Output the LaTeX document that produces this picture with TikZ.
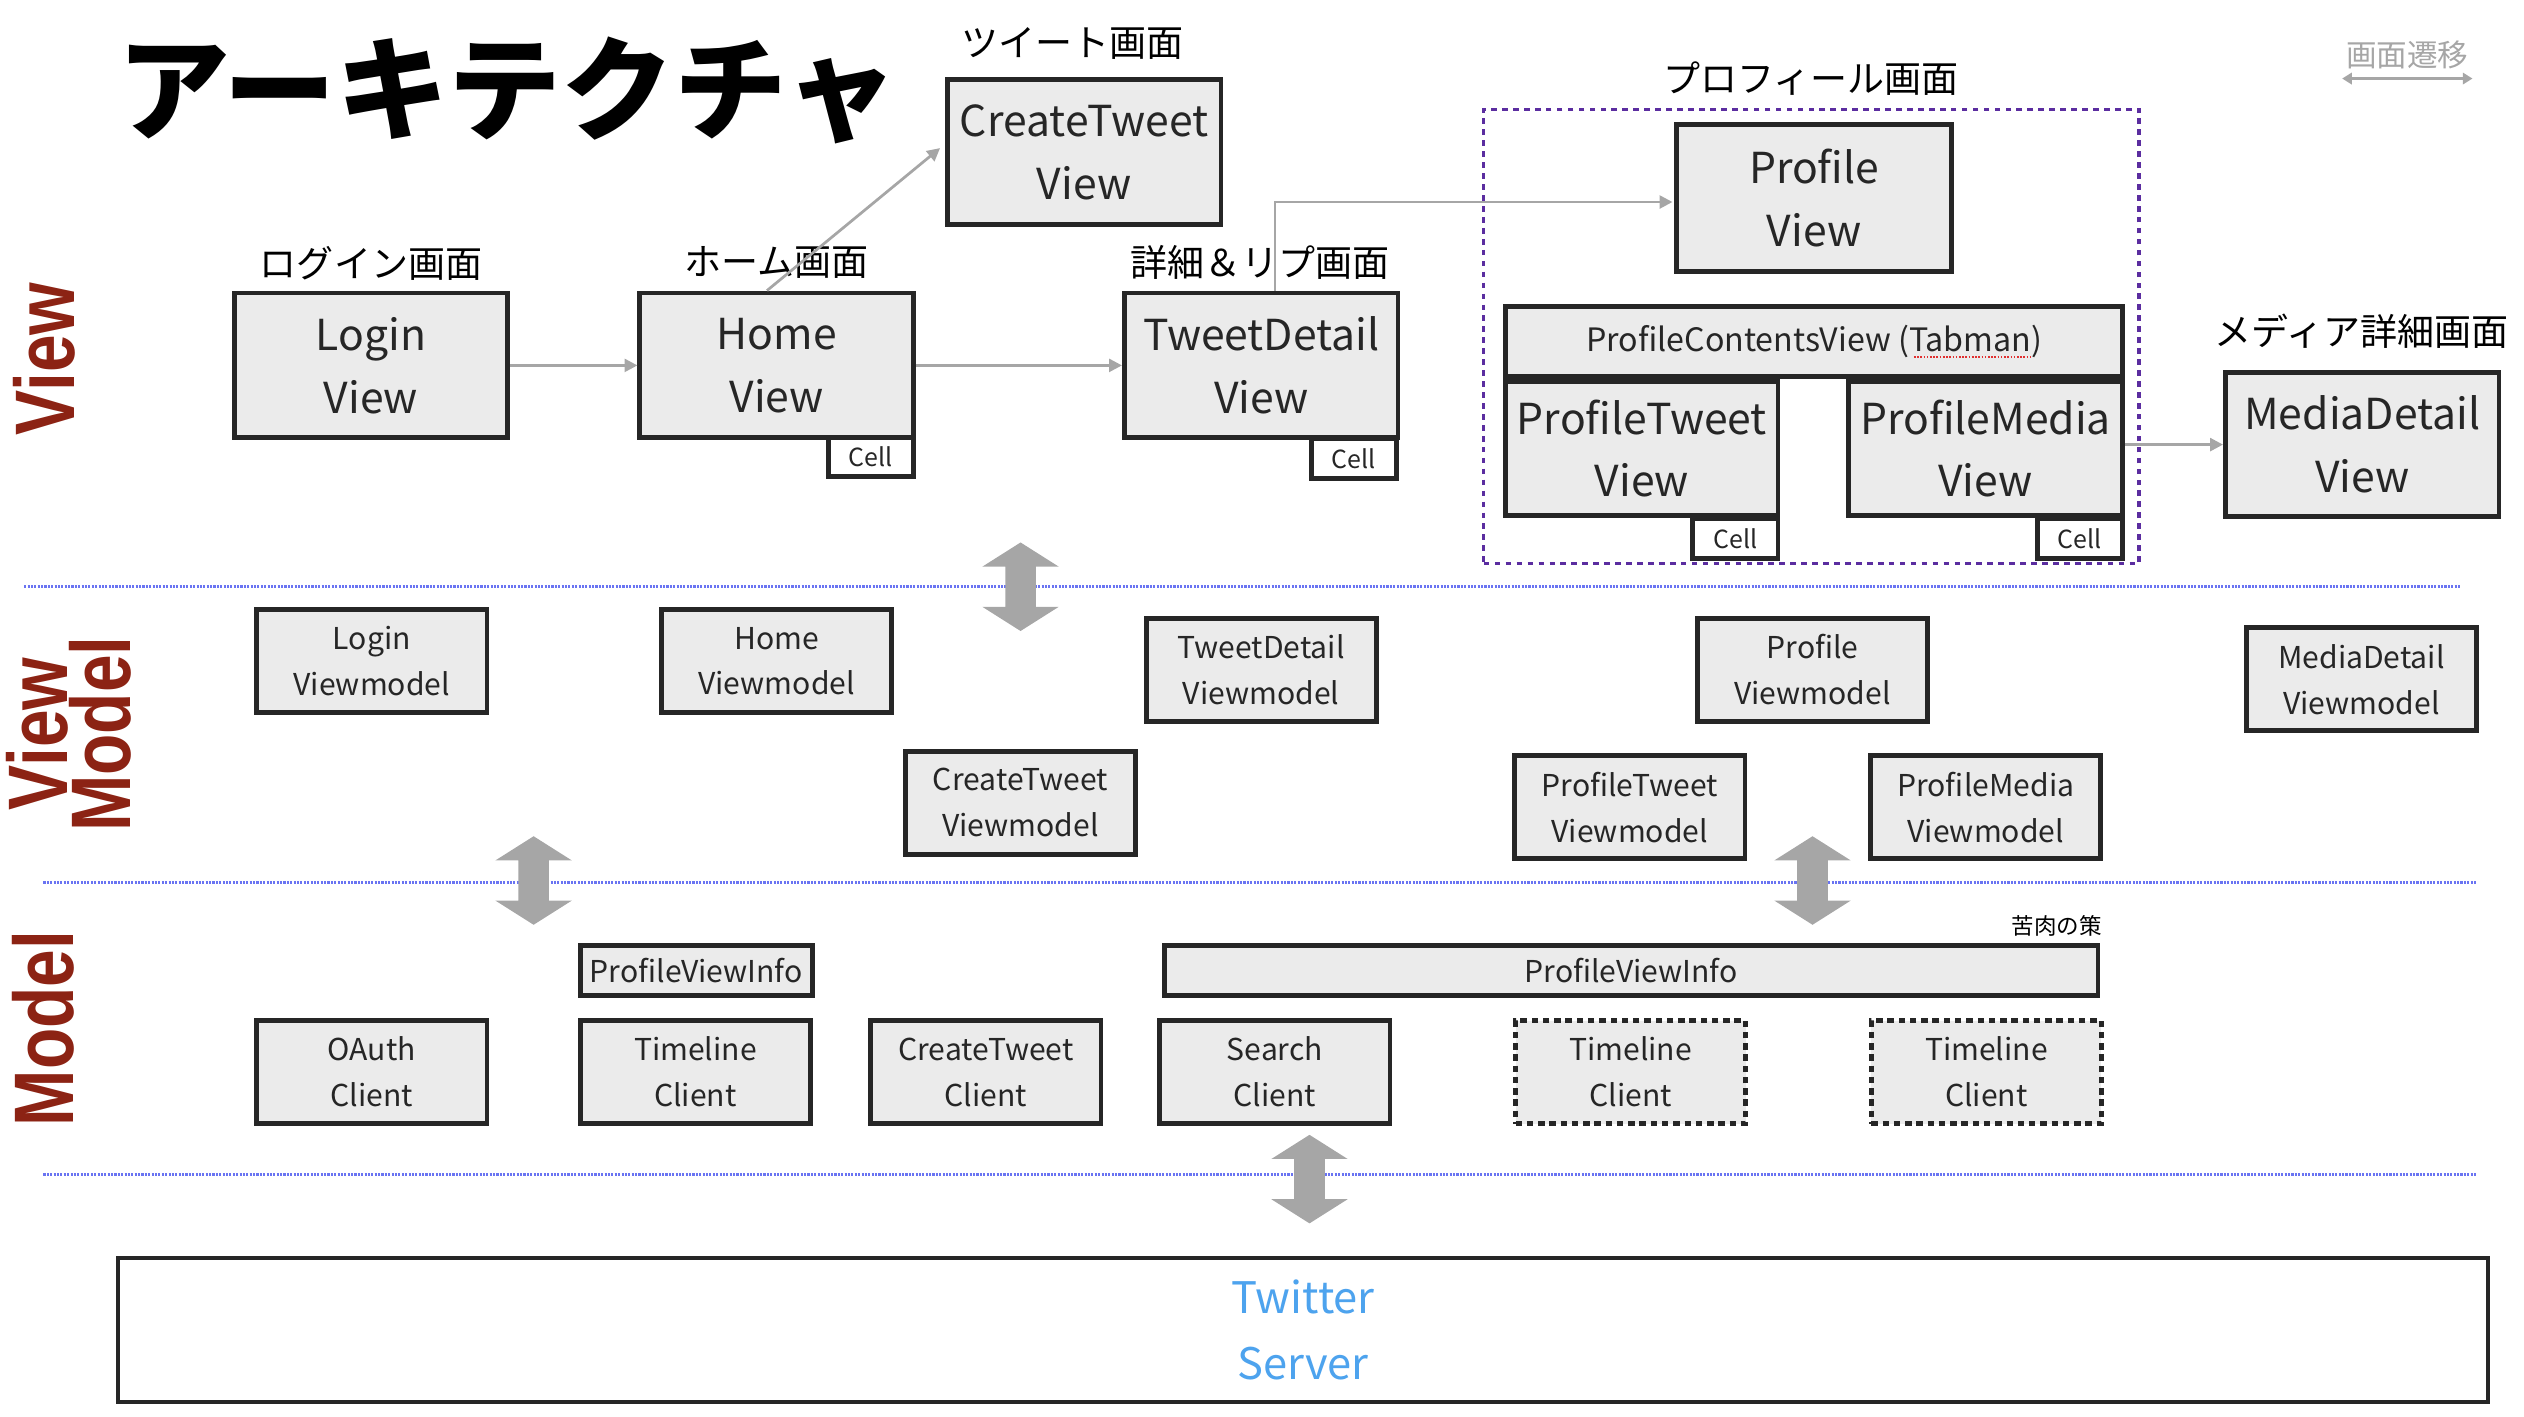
\documentclass[tikz,border=0pt]{standalone}
\usepackage{fontspec}
\setmainfont{Noto Sans CJK JP}
\newfontfamily\redfont{Liberation Sans}
\usetikzlibrary{arrows.meta,calc}
\definecolor{boxfill}{HTML}{EBEBEB}
\definecolor{boxline}{HTML}{262626}
\definecolor{arrgray}{HTML}{A6A6A6}
\definecolor{layerred}{HTML}{8C2314}
\definecolor{sepblue}{HTML}{6A74F2}
\definecolor{framepurple}{HTML}{5B2DA0}
\definecolor{twblue}{HTML}{4DA3EE}
\definecolor{wavyred}{HTML}{E03030}
\begin{document}
\begin{tikzpicture}[x=1pt,y=-1pt,
  box/.style={draw=boxline, fill=boxfill, line width=3pt, text=boxline, align=center, inner sep=0pt},
  bigbox/.style={box, minimum width=170pt, minimum height=90pt, font=\fontsize{26.5pt}{39pt}\selectfont},
  smallbox/.style={box, minimum width=143pt, minimum height=64pt, font=\fontsize{18.7pt}{28.5pt}\selectfont},
  dashbox/.style={smallbox, dash pattern=on 4pt off 3pt},
  infobox/.style={box, minimum height=31pt, font=\fontsize{18.7pt}{24pt}\selectfont},
  cellbox/.style={draw=boxline, fill=white, line width=3pt, minimum width=53pt, minimum height=24.5pt, inner sep=0pt, font=\fontsize{15.5pt}{18pt}\selectfont, text=boxline},
  lbl/.style={font=\fontsize{23pt}{28pt}\selectfont, text=black, inner sep=0pt},
  conn/.style={draw=arrgray, line width=1.7pt, -{Triangle[length=8pt,width=8pt]}},
  sep/.style={draw=sepblue, line width=2pt, dash pattern=on 1.3pt off 0.8pt},
  layer/.style={text=layerred, font=\redfont\bfseries\fontsize{42pt}{42pt}\selectfont, rotate=90, inner sep=0pt},
  dblarr/.pic={\fill[arrgray] (0,-27.5) -- (23.7,-12.5) -- (9.5,-12.5) -- (9.5,12.5) -- (23.7,12.5) -- (0,27.5) -- (-23.7,12.5) -- (-9.5,12.5) -- (-9.5,-12.5) -- (-23.7,-12.5) -- cycle;}
]
\useasboundingbox (0,0) rectangle (1568,880);

% title
\node[font=\bfseries\fontsize{70pt}{74pt}\selectfont, inner sep=0pt] (title) at (315.5,56) {アーキテクチャ};

% layer labels
\node[layer] (lView) at (27.5,223) {\scalebox{1}[1.25]{View}};
\node[layer] (lVM1) at (23,456) {\scalebox{1}[1.25]{View}};
\node[layer] (lVM2) at (62.5,456) {\scalebox{1}[1.25]{Model}};
\node[layer] (lModel) at (27,639) {\scalebox{1}[1.25]{Model}};

% separators
\coordinate (s1a) at (15,364.5); \coordinate (s1b) at (1528,364.5);
\coordinate (s2a) at (27,548.3); \coordinate (s2b) at (1538,548.3);
\coordinate (s3a) at (27,729.8); \coordinate (s3b) at (1538,729.8);
\draw[sep] (s1a) -- (s1b);
\draw[sep] (s2a) -- (s2b);
\draw[sep] (s3a) -- (s3b);

% legend
\node[font=\fontsize{19pt}{22pt}\selectfont, text=arrgray, inner sep=0pt] (legend) at (1495.5,34) {画面遷移};
\coordinate (legA) at (1455,48.8); \coordinate (legB) at (1536,48.8);
\draw[draw=arrgray, line width=1.7pt, {Triangle[length=6pt,width=7pt]}-{Triangle[length=6pt,width=7pt]}] (legA) -- (legB);

% profile frame
\node[draw=framepurple, line width=2pt, dash pattern=on 3.5pt off 3.3pt, minimum width=407pt, minimum height=282pt, inner sep=0pt] (pframe) at (1125.3,209) {};

% screen labels
\node[lbl] (tTweet) at (666,27) {ツイート画面};
\node[lbl] (tLogin) at (230.5,163.5) {ログイン画面};
\node[lbl] (tHome) at (482.5,163) {ホーム画面};
\node[lbl] (tDetail) at (783,163) {詳細＆リプ画面};
\node[lbl] (tProfile) at (1125,49) {プロフィール画面};
\node[lbl] (tMedia) at (1467,206) {メディア詳細画面};

% View layer
\node[bigbox] (loginV) at (230.5,227) {Login\\View};
\node[bigbox] (homeV) at (482.5,227) {Home\\View};
\node[bigbox] (createV) at (673.5,94.5) {CreateTweet\\View};
\node[bigbox] (detailV) at (783.5,227) {TweetDetail\\View};
\node[bigbox, minimum width=171pt, minimum height=91pt] (profileV) at (1127,123) {Profile\\View};
\node[box, minimum width=383pt, minimum height=43.5pt, font=\fontsize{20pt}{24pt}\selectfont] (contents) at (1127,212.3) {ProfileContentsView (Tabman)};
\node[bigbox, minimum width=169pt, minimum height=83pt] (ptweetV) at (1020,278.6) {ProfileTweet\\View};
\node[bigbox, minimum width=170pt, minimum height=83pt] (pmediaV) at (1233.5,278.6) {ProfileMedia\\View};
\node[bigbox, minimum height=89.5pt] (mediaV) at (1467.5,276.2) {MediaDetail\\View};
\draw[wavyred, line width=1.2pt, dash pattern=on 1pt off 1pt] (1189,221.5) -- (1262,221.5);

\node[cellbox] (homeCell) at (541,284) {Cell};
\node[cellbox] (detailCell) at (841,285) {Cell};
\node[cellbox] (ptweetCell) at (1078,334.5) {Cell};
\node[cellbox] (pmediaCell) at (1292,334.5) {Cell};

% transitions
\draw[conn] (loginV.east) -- (homeV.west);
\draw[conn] (homeV.east) -- (detailV.west);
\draw[conn] ($(homeV.north)+(-6,0)$) -- ($(createV.west)+(-3,-2.5)$);
\draw[conn] ($(detailV.north)+(8.5,0)$) |- ($(profileV.west)+(-1,2.5)$);
\draw[conn] (pmediaV.east |- mediaV.west) -- (mediaV.west);

% ViewModel layer
\node[smallbox] (loginVM) at (231,410.7) {Login\\Viewmodel};
\node[smallbox] (homeVM) at (482.5,410.7) {Home\\Viewmodel};
\node[smallbox] (detailVM) at (783.5,416) {TweetDetail\\Viewmodel};
\node[smallbox] (createVM) at (634,498.6) {CreateTweet\\Viewmodel};
\node[smallbox] (profileVM) at (1126,416) {Profile\\Viewmodel};
\node[smallbox] (ptweetVM) at (1012.5,501.5) {ProfileTweet\\Viewmodel};
\node[smallbox] (pmediaVM) at (1233.6,501.5) {ProfileMedia\\Viewmodel};
\node[smallbox] (mediaVM) at (1467,422) {MediaDetail\\Viewmodel};

% Model layer
\node[font=\fontsize{14pt}{16pt}\selectfont, inner sep=0pt, anchor=east] (kuniku) at (1306,575) {苦肉の策};
\node[infobox, minimum width=144pt] (pinfo1) at (432.5,603) {ProfileViewInfo};
\node[infobox, minimum width=580pt] (pinfo2) at (1013.3,603) {ProfileViewInfo};
\node[smallbox] (oauthC) at (231,666) {OAuth\\Client};
\node[smallbox] (timelineC) at (432,666) {Timeline\\Client};
\node[smallbox] (createC) at (612.5,666) {CreateTweet\\Client};
\node[smallbox] (searchC) at (792,666) {Search\\Client};
\node[dashbox] (timelineC2) at (1013,666) {Timeline\\Client};
\node[dashbox] (timelineC3) at (1234,666) {Timeline\\Client};

% server
\node[draw=boxline, line width=2.5pt, fill=white, minimum width=1472.5pt, minimum height=89.5pt, text=twblue, font=\fontsize{27pt}{41pt}\selectfont, align=center, inner sep=0pt] (server) at (809.5,826) {Twitter\\Server};

% layer arrows
\pic at (634,364.5) {dblarr};
\pic at (331.5,547) {dblarr};
\pic at (1126,547) {dblarr};
\pic at (813.5,732.5) {dblarr};
\end{tikzpicture}
\end{document}
